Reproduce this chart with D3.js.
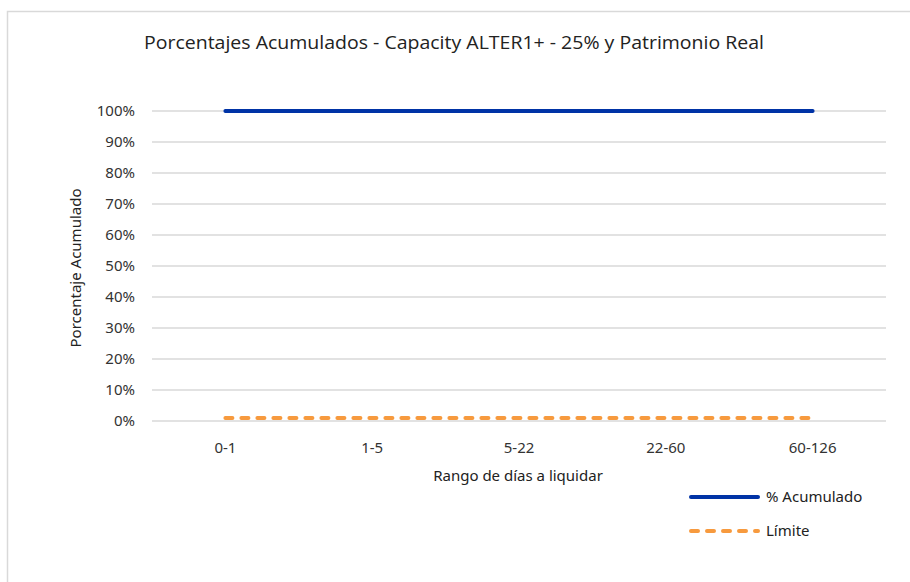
<!DOCTYPE html>
<html>
<head>
<meta charset="utf-8">
<script src="https://cdn.jsdelivr.net/npm/d3@7"></script>
<style>
  body { margin: 0; background: #fff; }
  svg { display: block; font-family: "Noto Sans", "Open Sans", sans-serif; }
</style>
</head>
<body>
<svg id="chart" width="910" height="582"></svg>
<script>
const categories = ['0-1', '1-5', '5-22', '22-60', '60-126'];
const acumulado = [1, 1, 1, 1, 1];
const limite = [0.01, 0.01, 0.01, 0.01, 0.01];
const yTicks = [0, 0.1, 0.2, 0.3, 0.4, 0.5, 0.6, 0.7, 0.8, 0.9, 1];

const svg = d3.select('#chart');

// Chart frame
svg.append('rect')
  .attr('x', 7.5).attr('y', 11.5)
  .attr('width', 920).attr('height', 600)
  .attr('fill', '#fff')
  .attr('stroke', '#d9d9d9')
  .attr('stroke-width', 1.5);

const margin = { left: 152, right: 24, top: 111, bottom: 161 };
const width = 910, height = 582;

const x = d3.scaleBand()
  .domain(categories)
  .range([margin.left, width - margin.right]);

const y = d3.scaleLinear()
  .domain([0, 1])
  .range([height - margin.bottom, margin.top]);

// Gridlines
svg.append('g')
  .selectAll('line')
  .data(yTicks)
  .join('line')
  .attr('x1', margin.left)
  .attr('x2', width - margin.right)
  .attr('y1', (d) => y(d))
  .attr('y2', (d) => y(d))
  .attr('stroke', '#d9d9d9')
  .attr('stroke-width', 1.5);

// Y axis
const yAxis = svg.append('g')
  .attr('transform', `translate(${margin.left},0)`)
  .call(d3.axisLeft(y).tickValues(yTicks).tickFormat(d3.format('.0%')).tickSize(0).tickPadding(17));
yAxis.select('.domain').remove();
yAxis.selectAll('text')
  .attr('font-size', 15)
  .attr('fill', '#333')
  .attr('font-family', '"Noto Sans", sans-serif');

// X axis
const xAxis = svg.append('g')
  .attr('transform', `translate(0,${y(0)})`)
  .call(d3.axisBottom(x).tickSize(0).tickPadding(21));
xAxis.select('.domain').remove();
xAxis.selectAll('text')
  .attr('font-size', 15)
  .attr('fill', '#333')
  .attr('font-family', '"Noto Sans", sans-serif');

const cx = (d, i) => x(categories[i]) + x.bandwidth() / 2;

// Lines
const line = d3.line()
  .x(cx)
  .y((d) => y(d));

svg.append('path')
  .datum(acumulado)
  .attr('fill', 'none')
  .attr('stroke', '#0033a6')
  .attr('stroke-width', 4)
  .attr('stroke-linecap', 'round')
  .attr('d', line);

svg.append('path')
  .datum(limite)
  .attr('fill', 'none')
  .attr('stroke', '#f79a3e')
  .attr('stroke-width', 4)
  .attr('stroke-linecap', 'round')
  .attr('stroke-dasharray', '7,9')
  .attr('d', line);

// Title
svg.append('text')
  .attr('x', 454)
  .attr('y', 49)
  .attr('text-anchor', 'middle')
  .attr('font-size', 18)
  .attr('fill', '#222')
  .attr('textLength', 620)
  .attr('lengthAdjust', 'spacingAndGlyphs')
  .attr('font-family', '"Open Sans", sans-serif')
  .text('Porcentajes Acumulados - Capacity ALTER1+ - 25% y Patrimonio Real');

// Axis titles
svg.append('text')
  .attr('transform', 'translate(81,268) rotate(-90)')
  .attr('text-anchor', 'middle')
  .attr('font-size', 15)
  .attr('fill', '#222')
  .text('Porcentaje Acumulado');

svg.append('text')
  .attr('x', 518)
  .attr('y', 481)
  .attr('text-anchor', 'middle')
  .attr('font-size', 15)
  .attr('fill', '#222')
  .text('Rango de días a liquidar');

// Legend
const legend = [
  { label: '% Acumulado', color: '#0033a6', dash: null, y: 497 },
  { label: 'Límite', color: '#f79a3e', dash: '7,9', y: 531 },
];
const lg = svg.append('g');
lg.selectAll('line')
  .data(legend)
  .join('line')
  .attr('x1', 691).attr('x2', 758)
  .attr('y1', (d) => d.y).attr('y2', (d) => d.y)
  .attr('stroke', (d) => d.color)
  .attr('stroke-width', 4)
  .attr('stroke-linecap', 'round')
  .attr('stroke-dasharray', (d) => d.dash);
lg.selectAll('text')
  .data(legend)
  .join('text')
  .attr('x', 766)
  .attr('y', (d) => d.y + 5)
  .attr('font-size', 15)
  .attr('fill', '#222')
  .text((d) => d.label);
</script>
</body>
</html>
